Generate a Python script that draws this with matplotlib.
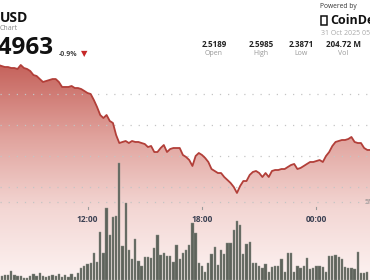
import numpy as np
import pandas as pd
import matplotlib
matplotlib.use("Agg")
import matplotlib.pyplot as plt
import matplotlib.dates as mdates
from matplotlib.colors import LinearSegmentedColormap
from matplotlib.patches import Rectangle

# ---------------- data ----------------
price_times = pd.date_range("2025-10-30 07:20", periods=118, freq="10min")
price = [
    2.5976, 2.5959, 2.5943, 2.5943, 2.5927, 2.5927, 2.5911, 2.5976, 2.5927, 2.5911,
    2.5878, 2.5813, 2.5797, 2.5748, 2.5700, 2.5716, 2.5732, 2.5748, 2.5748, 2.5700,
    2.5619, 2.5619, 2.5619, 2.5635, 2.5602, 2.5602, 2.5586, 2.5554, 2.5521, 2.5505,
    2.5407, 2.5294, 2.5164, 2.5115, 2.5164, 2.5067, 2.5034, 2.4839, 2.4709, 2.4726,
    2.4742, 2.4709, 2.4742, 2.4726, 2.4726, 2.4709, 2.4693, 2.4644, 2.4661, 2.4563,
    2.4563, 2.4628, 2.4677, 2.4563, 2.4612, 2.4628, 2.4628, 2.4628, 2.4515, 2.4482,
    2.4433, 2.4336, 2.4498, 2.4547, 2.4515, 2.4466, 2.4401, 2.4287, 2.4255, 2.4222,
    2.4222, 2.4157, 2.4109, 2.4060, 2.3995, 2.3898, 2.4011, 2.4092, 2.4092, 2.4190,
    2.4239, 2.4255, 2.4222, 2.4157, 2.4222, 2.4157, 2.4255, 2.4271, 2.4271, 2.4287,
    2.4287, 2.4320, 2.4352, 2.4369, 2.4287, 2.4304, 2.4336, 2.4369, 2.4401, 2.4401,
    2.4417, 2.4433, 2.4401, 2.4498, 2.4563, 2.4661, 2.4726, 2.4742, 2.4758, 2.4758,
    2.4774, 2.4807, 2.4726, 2.4709, 2.4709, 2.4628, 2.4596, 2.4596,
]
vol_times = pd.date_range("2025-10-30 07:30", periods=116, freq="10min")
volume_m = [
    0.26, 0.32, 0.32, 0.58, 0.32, 0.26, 0.26, 0.13, 0.13, 0.26,
    0.39, 0.26, 0.45, 0.26, 0.19, 0.26, 0.32, 0.26, 0.39, 0.19,
    0.32, 0.19, 0.39, 0.19, 0.45, 0.77, 0.90, 1.03, 1.09, 1.74,
    1.16, 3.09, 1.74, 4.64, 2.90, 4.06, 4.12, 7.53, 2.19, 4.96,
    1.93, 1.35, 2.64, 1.22, 0.90, 1.48, 1.48, 1.42, 2.06, 2.90,
    1.61, 1.74, 1.55, 1.55, 1.16, 2.25, 1.35, 1.74, 1.93, 2.25,
    3.67, 3.03, 1.09, 0.90, 0.52, 1.09, 1.67, 2.13, 0.97, 1.93,
    1.67, 2.38, 2.38, 3.22, 3.80, 3.54, 1.67, 2.32, 2.45, 1.09,
    1.09, 0.90, 0.77, 1.03, 0.52, 0.84, 0.90, 0.90, 1.35, 0.52,
    1.74, 1.74, 0.52, 0.90, 0.77, 0.90, 1.42, 0.71, 0.77, 0.90,
    0.90, 0.84, 0.52, 1.55, 1.55, 1.61, 1.48, 1.35, 0.84, 0.77,
    0.77, 0.71, 1.80, 0.45, 0.45, 0.52,
]
grid_prices = [2.55, 2.50, 2.45, 2.40]
volume_grid = [5]
time_ticks = pd.to_datetime(["2025-10-30 12:00", "2025-10-30 18:00", "2025-10-31 00:00"])
time_labels = ["12:00", "18:00", "00:00"]
stat_values = ["2.5189", "2.5985", "2.3871", "204.72 M"]
stat_names = ["Open", "High", "Low", "Vol"]
last_price = "2.4963"
change_pct = "-0.9%"

# ---------------- figure ----------------
W, H = 370, 280
fig = plt.figure(figsize=(W / 100, H / 100), dpi=100)
fig.patch.set_facecolor("white")
ax = fig.add_axes([0, 0, 1, 1])
ax.set_axis_off()

x = mdates.date2num(price_times)
xv = mdates.date2num(vol_times)
step = 1 / 144.0
noon = mdates.date2num(pd.Timestamp("2025-10-30 12:00"))
ax.set_xlim(noon - 27.52 * step, noon + 88.84 * step)
ymin, ymax = 2.2485, 2.7031
ax.set_ylim(ymin, ymax)

# gradient fill under the price line
cmap = LinearSegmentedColormap.from_list("g", ["#fdf3f2", "#f3d6d3", "#e0a29c", "#c5625b"])
grad = np.linspace(0, 1, 256).reshape(-1, 1)
poly = ax.fill_between(x, price, ymin, color="none", lw=0)
im = ax.imshow(grad, extent=[x[0], x[-1], ymin, max(price)], aspect="auto",
               cmap=cmap, origin="lower", zorder=1, interpolation="bicubic")
im.set_clip_path(poly.get_paths()[0], transform=ax.transData)

for gp in grid_prices:
    ax.axhline(gp, ls=(0, (1, 5.5)), color="#c4c4c4", lw=0.9, zorder=1.5)

ax.plot(x, price, color="#b23f39", lw=1.3, zorder=4, solid_joinstyle="round")

# volume
axv = ax.twinx()
axv.set_axis_off()
axv.set_ylim(0, 18.03)
axv.set_xlim(ax.get_xlim())
for vg in volume_grid:
    axv.axhline(vg, ls=(0, (1, 5.5)), color="#c4c4c4", lw=0.9, zorder=0.5)
    axv.text(1.0, vg, f"{vg}M", transform=axv.get_yaxis_transform(), ha="center",
             va="center", fontsize=5, color="#888888", family="Open Sans")
axv.bar(xv, volume_m, width=0.72 * step, color="#5e635b", edgecolor="#8a8f87",
        linewidth=0.3, zorder=2)

# time labels
tx = mdates.date2num(time_ticks)
for xt, lab in zip(tx, time_labels):
    ax.text(xt, 1 - 219 / H, lab, transform=ax.get_xaxis_transform(), ha="center",
            va="center", fontsize=6, fontweight="bold", color="#3b4052", family="Open Sans",
            zorder=6)
    ax.plot([xt, xt], [1 - 209 / H, 1 - 207 / H], transform=ax.get_xaxis_transform(),
            color="#9a9a9a", lw=0.8, zorder=6)

# ---------------- header texts ----------------
def fx(px):
    return px / W

def fy(py):
    return 1 - py / H

fig.text(fx(-0.5), fy(18), "USD", fontsize=10, fontweight="bold", color="#111111",
         family="Open Sans", ha="left", va="center")
fig.text(fx(-0.5), fy(28.5), "Chart", fontsize=5, color="#888888",
         family="Open Sans", ha="left", va="center")
fig.text(fx(53), fy(47.5), last_price, fontsize=17.5, fontweight="bold", color="#111111",
         family="Open Sans", ha="right", va="center")
fig.text(fx(59), fy(54.5), change_pct, fontsize=5, fontweight="bold", color="#444444",
         family="Open Sans", ha="left", va="center")
fig.text(fx(84.5), fy(54), "\u25BC", fontsize=6, color="#c62828",
         family="DejaVu Sans", ha="center", va="center")

fig.text(fx(320), fy(6.5), "Powered by", fontsize=4.8, color="#333333",
         family="Open Sans", ha="left", va="center")
fig.patches.append(Rectangle((fx(320.5), fy(25)), fx(6), 9 / H, transform=fig.transFigure,
                             fill=False, edgecolor="#111111", lw=1.1))
fig.text(fx(330), fy(20.5), "CoinDesk", fontsize=9, fontweight="bold", color="#111111",
         family="Open Sans", ha="left", va="center")
fig.text(fx(321), fy(33.5), "31 Oct 2025 05", fontsize=5, color="#aaaaaa",
         family="Open Sans", ha="left", va="center")

for cx, v, n in zip([214, 261, 301, 343], stat_values, stat_names):
    fig.text(fx(cx), fy(44.5), v, fontsize=5.8, fontweight="bold", color="#222222",
             family="Open Sans", ha="center", va="center")
    fig.text(fx(cx), fy(53.5), n, fontsize=5, color="#999999",
             family="Open Sans", ha="center", va="center")

fig.savefig("out.png", dpi=100, facecolor="white")
